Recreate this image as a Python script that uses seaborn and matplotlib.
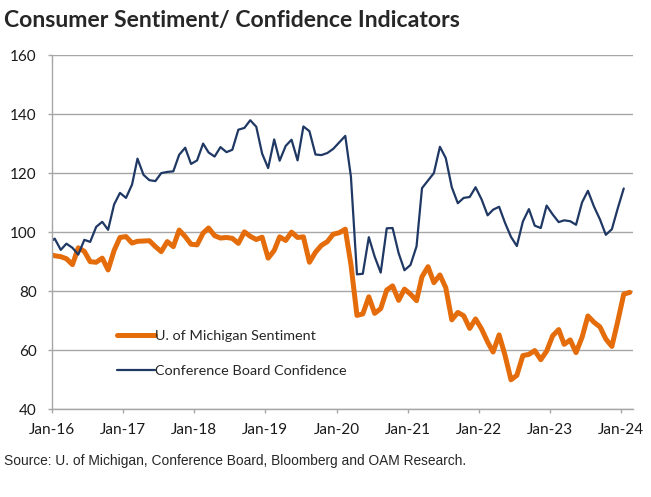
import pandas as pd
import seaborn as sns
import matplotlib.pyplot as plt
import matplotlib.dates as mdates

# monthly readings, Dec-15 .. Feb-24 (plotted mid-month; Dec-15 is clipped by the axis)
dates = pd.date_range("2015-12-01", "2024-02-01", freq="MS") + pd.Timedelta(days=14)

umich_sentiment = [
    92.6,
    92.0, 91.7, 91.0, 89.0, 94.7, 93.5, 90.0, 89.8, 91.2, 87.2, 93.8, 98.2,
    98.5, 96.3, 96.9, 97.0, 97.1, 95.1, 93.4, 96.8, 95.1, 100.7, 98.5, 95.9,
    95.7, 99.7, 101.4, 98.8, 98.0, 98.2, 97.9, 96.2, 100.1, 98.6, 97.5, 98.3,
    91.2, 93.8, 98.4, 97.2, 100.0, 98.2, 98.4, 89.8, 93.2, 95.5, 96.8, 99.3,
    99.8, 101.0, 89.1, 71.8, 72.3, 78.1, 72.5, 74.1, 80.4, 81.8, 76.9, 80.7,
    79.0, 76.8, 84.9, 88.3, 82.9, 85.5, 81.2, 70.3, 72.8, 71.7, 67.4, 70.6,
    67.2, 62.8, 59.4, 65.2, 58.4, 50.0, 51.5, 58.2, 58.6, 59.9, 56.8, 59.7,
    64.9, 67.0, 62.0, 63.5, 59.2, 64.4, 71.6, 69.5, 67.9, 63.8, 61.3, 69.7,
    79.0, 79.6,
]

cb_confidence = [
    96.3,
    97.8, 94.0, 96.1, 94.7, 92.4, 97.4, 96.7, 101.8, 103.5, 100.8, 109.4, 113.3,
    111.6, 116.1, 124.9, 119.4, 117.6, 117.3, 120.0, 120.4, 120.6, 126.2, 128.6, 123.1,
    124.3, 130.0, 127.0, 125.6, 128.8, 127.1, 127.9, 134.7, 135.3, 137.9, 135.7, 126.6,
    121.7, 131.4, 124.2, 129.2, 131.3, 124.3, 135.8, 134.2, 126.3, 126.1, 126.8, 128.2,
    130.4, 132.6, 118.8, 85.7, 85.9, 98.3, 91.7, 86.3, 101.3, 101.4, 92.9, 87.1,
    88.9, 95.2, 114.9, 117.5, 120.0, 128.9, 125.1, 115.2, 109.8, 111.6, 111.9, 115.2,
    111.1, 105.7, 107.6, 108.6, 103.2, 98.4, 95.3, 103.6, 107.8, 102.2, 101.4, 109.0,
    106.0, 103.4, 104.0, 103.7, 102.5, 110.1, 114.0, 108.7, 104.3, 99.1, 101.0, 108.0,
    114.8,
]

ORANGE = "#E46C0A"
NAVY = "#1F3864"
GRID = "#A6A6A6"

sns.set_theme(style="white")
plt.rcParams["font.family"] = ["Lato", "DejaVu Sans"]

fig = plt.figure(figsize=(6.51, 4.97), dpi=100)
ax = fig.add_axes([52 / 651, 1 - 409.3 / 497, 580.7 / 651, 354.3 / 497])

sns.lineplot(x=dates, y=umich_sentiment, ax=ax, color=ORANGE, linewidth=3.6,
             label="U. of Michigan Sentiment", solid_joinstyle="round", solid_capstyle="round")
sns.lineplot(x=dates[:len(cb_confidence)], y=cb_confidence, ax=ax, color=NAVY, linewidth=1.6,
             label="Conference Board Confidence", solid_joinstyle="round")

ax.set_xlim(pd.Timestamp("2016-01-01"), pd.Timestamp("2024-03-01"))
ax.set_ylim(40, 160)
ax.set_yticks(range(40, 161, 20))
ax.xaxis.set_major_locator(mdates.YearLocator())
ax.xaxis.set_major_formatter(mdates.DateFormatter("%b-%y"))
ax.set_xlabel("")
ax.set_ylabel("")

ax.yaxis.grid(True, color=GRID, linewidth=1.0)
ax.xaxis.grid(False)
ax.set_axisbelow(True)
for side in ["top", "right"]:
    ax.spines[side].set_visible(False)
for side in ["left", "bottom"]:
    ax.spines[side].set_color(GRID)
    ax.spines[side].set_linewidth(1.0)

ax.tick_params(axis="both", which="both", length=3, width=1, color=GRID,
               labelsize=11, labelcolor="#1a1a1a")
ax.tick_params(axis="x", pad=7, bottom=True)
ax.tick_params(axis="y", pad=8, left=True)

ax.legend(loc="upper left", bbox_to_anchor=((117 - 52) / 580.7, (409.3 - 330) / 354.3),
          frameon=False, fontsize=10.4, handlelength=2.6, handletextpad=0.05,
          labelspacing=1.55, borderpad=0, borderaxespad=0)

fig.text(4 / 651, 1 - 21 / 497, "Consumer Sentiment/ Confidence Indicators",
         fontsize=16.6, fontweight="bold", ha="left", va="center")
fig.text(4 / 651, 1 - 461 / 497,
         "Source: U. of Michigan, Conference Board, Bloomberg and OAM Research.",
         fontsize=9.9, family=["Liberation Sans", "DejaVu Sans"], ha="left", va="center")

fig.savefig("out.png", dpi=100)
